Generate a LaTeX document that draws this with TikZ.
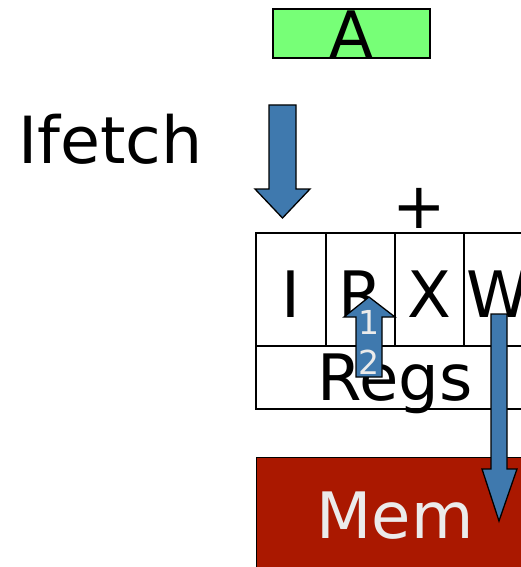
\documentclass[tikz,border=0pt]{standalone}
\usepackage{fontspec}
\setmainfont{DejaVu Sans}
\definecolor{boxgreen}{HTML}{77FF77}
\definecolor{arrowblue}{HTML}{3F79AE}
\definecolor{memred}{HTML}{AA1800}
\definecolor{memtext}{HTML}{EBEBEB}
\begin{document}
\begin{tikzpicture}[x=1pt,y=-1pt,
  big/.style={font=\fontsize{64}{64}\selectfont, inner sep=0pt, anchor=base},
  small/.style={font=\fontsize{33}{33}\selectfont, inner sep=0pt, text=memtext},
  frame/.style={draw=black, line width=1.3pt},
  blockarrow/.style={fill=arrowblue, draw=black, line width=1.3pt, line join=miter}]
\useasboundingbox (0,0) rectangle (521,567);
\fill[white] (0,0) rectangle (521,567);
\clip (0,0) rectangle (521,567);

% register value box
\node[frame, fill=boxgreen, minimum width=157pt, minimum height=49pt, inner sep=0pt] (abox) at (351.5,33.5) {};
\node[big] (alabel) at (351.5,58) {A};

% stage label and fetch arrow
\node[big, font=\fontsize{65}{65}\selectfont, anchor=base west] (ifetch) at (18,163) {Ifetch};
\draw[blockarrow] (269,105) -- (296,105) -- (296,189) -- (310,189) -- (282.5,218)
  -- (255,189) -- (269,189) -- cycle;

% adder
\node[big, anchor=center] (plus) at (419.5,208) {+};

% pipeline stage table
\draw[frame] (256,233) rectangle (560,409);
\draw[frame] (256,346) -- (560,346);
\foreach \x in {326,395,464,533} \draw[frame] (\x,233) -- (\x,346);
\node[big] (si) at (291,317) {I};
\node[big] (sr) at (360.5,317) {R};
\node[big] (sx) at (429.5,317) {X};
\node[big] (sw) at (498.5,317) {W};
\node[big] (regs) at (395,400) {Regs};

% memory
\node[frame, fill=memred, minimum width=300pt, minimum height=140pt, anchor=north west, inner sep=0pt] (mem) at (256,457) {};
\node[big, text=memtext] (memlabel) at (395,538) {Mem};

% register read arrow
\draw[blockarrow] (356,377) -- (382,377) -- (382,317) -- (395,317) -- (369,297)
  -- (344,317) -- (356,317) -- cycle;
\node[small] (one) at (369,322) {1};
\node[small] (two) at (369,362) {2};

% write-back arrow
\draw[blockarrow] (491,314) -- (507,314) -- (507,469) -- (517,469) -- (499,521)
  -- (482,469) -- (491,469) -- cycle;
\end{tikzpicture}
\end{document}
